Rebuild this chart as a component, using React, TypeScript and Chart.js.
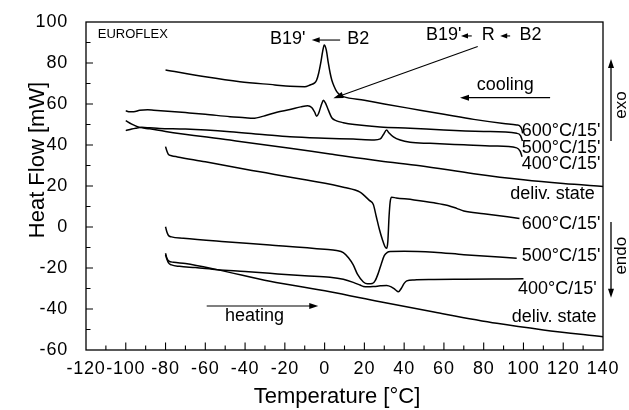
import React, { useEffect, useRef } from "react";
import { Chart, registerables } from "chart.js";

Chart.register(...registerables);

const FONT = "Arial, 'Liberation Sans', sans-serif";

// ---- axis ranges / tick labels ----
const xRange = [-120, 140];
const yRange = [-60, 100];
const xStep = 20;
const yStep = 20;

// ---- cooling curves (exo up) ----
const cool600T = [-80, -60, -42.6, -25, -17.4, -10, -7.3, -5, -4, -3, -2, -1, -0.2, 0.8, 1.9, 2.8, 3.6, 4.8, 6.1, 7.7, 9.4, 20, 30, 48, 60, 75, 90, 96.6, 98.3, 99.2, 99.6];
const cool600H = [76.6, 73.3, 70.9, 69.3, 68.6, 68.4, 69.3, 70.3, 71.7, 75, 79.8, 85.5, 88.8, 86.5, 79.8, 75, 71.7, 68.5, 66, 64.4, 63.6, 61.8, 60, 57, 55, 52.5, 50.5, 49.8, 49.2, 47.5, 45.7];

const cool500T = [-100, -98, -96, -93, -89, -86, -70, -60, -47.6, -40, -36, -30, -24, -17.4, -12, -8.5, -6.5, -5, -4, -3, -1.5, -0.6, 0.4, 1.9, 3.6, 6, 9.4, 15, 27.9, 43, 60, 80, 96.6, 98.5, 99.5];
const cool500H = [56.7, 56.2, 56.2, 56.9, 57.2, 57, 55.8, 55, 53.8, 53.3, 53, 54.3, 56, 57.3, 58.6, 59.2, 58.3, 56, 54, 55.5, 60, 61.8, 60.5, 57, 53.3, 51.8, 50.9, 50, 48.8, 48.2, 47.3, 46.6, 45.7, 44.6, 42];

const cool400T = [-100, -97, -95, -92, -88, -83, -70, -47.6, -30, -17.4, 0, 14.4, 25, 28, 29.5, 31.2, 32.3, 34.6, 38, 43, 53, 70, 85, 96.6, 98.3, 99.3];
const cool400H = [47, 47.8, 48.2, 48.6, 48.4, 48.1, 47.8, 46.5, 45, 44, 43.3, 42.9, 42.5, 43, 45, 47.3, 46, 44, 42.4, 41.3, 40.8, 40.1, 39.5, 38.6, 37, 34.3];

const coolDelT = [-100, -97, -93, -88, -80, -47.6, -17.4, 2.7, 27.9, 48, 75, 100, 120, 140];
const coolDelH = [51.9, 50.2, 48.6, 47.9, 46.6, 42.4, 38.4, 35.6, 32.2, 29.9, 26, 23, 21.2, 19.8];

// ---- heating curves (endo down) ----
const heat600T = [-80, -79.4, -78.6, -77, -74, -60, -39.2, -9, 10, 17.8, 20, 22.5, 24.5, 26, 27.5, 29, 30.3, 31.2, 31.8, 32.4, 33, 33.7, 36, 45, 55, 62, 66.4, 70, 80, 98];
const heat600H = [39.2, 37.3, 35.5, 34.8, 34.2, 31.8, 28, 22.9, 19.3, 17, 15.3, 13, 11, 5, -1, -6, -9.5, -10.4, -7, 5, 12.5, 14.5, 14.2, 13.2, 11.8, 10.5, 9.1, 7.8, 6.5, 4.2];

const heat500T = [-80, -79.4, -78.6, -77, -71, -50, -27.5, 0, 6, 9.4, 12, 14.4, 16.5, 19.5, 21.5, 24, 25.5, 27, 28.5, 30, 31.5, 33, 40, 55, 70, 96.6];
const heat500H = [0.1, -2.2, -4, -4.8, -5.5, -7.2, -8.8, -10.9, -11.5, -12.5, -15, -18.5, -23, -26.8, -27.7, -27.6, -26, -22.5, -18, -14, -12.4, -11.9, -11.8, -12.3, -13.5, -15.2];

const heat400T = [-80, -79.4, -78.5, -77, -73, -65, -54, -40, -27.5, -10, 2.7, 9.4, 14.4, 17.8, 19.5, 22, 25, 28, 31.2, 33.5, 35.5, 37.1, 38.5, 40, 41.3, 45, 55, 70, 85, 100];
const heat400H = [-13.5, -15.5, -17.5, -18.5, -19.2, -19.8, -20.8, -21.7, -22.6, -23.8, -24.5, -25.5, -27, -28.3, -29, -29.2, -29, -28.7, -28.5, -29.2, -30.5, -31.6, -30, -27.5, -26.3, -25.8, -25.6, -25.5, -25.4, -25.3];

const heatDelT = [-80, -79.4, -78.5, -76, -70, -54, -27.5, 2.7, 27.9, 55, 86.6, 110, 140];
const heatDelH = [-12.8, -15, -16.5, -17.2, -17.8, -20.8, -26.5, -31.6, -36.5, -41.5, -47, -50.2, -53.5];

const seriesNames = [
  "600°C/15' cooling", "500°C/15' cooling", "400°C/15' cooling", "deliv. state cooling",
  "600°C/15' heating", "500°C/15' heating", "400°C/15' heating", "deliv. state heating",
];

function arrow(ctx: CanvasRenderingContext2D, x1: number, y1: number, x2: number, y2: number, head = 8, half = 3) {
  const a = Math.atan2(y2 - y1, x2 - x1);
  ctx.beginPath();
  ctx.moveTo(x1, y1);
  ctx.lineTo(x2 - Math.cos(a) * head * 0.6, y2 - Math.sin(a) * head * 0.6);
  ctx.stroke();
  ctx.beginPath();
  ctx.moveTo(x2, y2);
  ctx.lineTo(x2 - Math.cos(a) * head - Math.sin(a) * half, y2 - Math.sin(a) * head + Math.cos(a) * half);
  ctx.lineTo(x2 - Math.cos(a) * head + Math.sin(a) * half, y2 - Math.sin(a) * head - Math.cos(a) * half);
  ctx.closePath();
  ctx.fill();
}

const spacing = {
  id: "spacing",
  beforeDraw(chart: any) {
    (chart.ctx as any).letterSpacing = "0.8px";
  },
  beforeDatasetsDraw(chart: any) {
    (chart.ctx as any).letterSpacing = "0px";
  },
};

const decor = {
  id: "decor",
  afterDraw(chart: any) {
    const { ctx, chartArea: ca, scales } = chart;
    (ctx as any).letterSpacing = "0px";
    const X = (v: number) => scales.x.getPixelForValue(v);
    const Y = (v: number) => scales.y.getPixelForValue(v);
    ctx.save();
    ctx.strokeStyle = "#000";
    ctx.fillStyle = "#000";
    // frame
    ctx.lineWidth = 1.3;
    ctx.strokeRect(ca.left, ca.top, ca.right - ca.left, ca.bottom - ca.top);
    // inward ticks
    ctx.lineWidth = 1.1;
    ctx.beginPath();
    for (let v = xRange[0] + 10; v < xRange[1]; v += 10) {
      const len = v % 20 === 0 ? 7.5 : 4.5;
      ctx.moveTo(X(v), ca.bottom);
      ctx.lineTo(X(v), ca.bottom - len);
    }
    for (let v = yRange[0] + 10; v < yRange[1]; v += 10) {
      const len = v % 20 === 0 ? 7 : 4.5;
      ctx.moveTo(ca.left, Y(v));
      ctx.lineTo(ca.left + len, Y(v));
    }
    ctx.stroke();

    // axis titles
    ctx.font = `22px ${FONT}`;
    ctx.textAlign = "center";
    ctx.textBaseline = "middle";
    ctx.fillText("Temperature [°C]", 337, 397);
    ctx.save();
    ctx.translate(38, 160);
    ctx.rotate(-Math.PI / 2);
    ctx.fillText("Heat Flow [mW]", 0, 0);
    ctx.restore();

    // annotations
    ctx.textAlign = "left";
    ctx.font = `13px ${FONT}`;
    ctx.fillText("EUROFLEX", X(-114.1), Y(93.7));

    ctx.font = `18px ${FONT}`;
    ctx.lineWidth = 1.1;
    ctx.fillText("B19'", X(-27.5), Y(91.7));
    arrow(ctx, X(7.8), Y(91.2), X(-6.5), Y(91.2), 8, 2.8);
    ctx.fillText("B2", X(11.4), Y(91.7));

    ctx.fillText("B19'", X(51), Y(93.4));
    arrow(ctx, X(74), Y(93.2), X(68.6), Y(93.2), 7, 2.6);
    ctx.fillText("R", X(79), Y(93.4));
    arrow(ctx, X(93.3), Y(93.2), X(88.3), Y(93.2), 7, 2.6);
    ctx.fillText("B2", X(98), Y(93.4));

    arrow(ctx, X(77), Y(88), X(4.4), Y(62.8), 10, 3.2);

    ctx.fillText("cooling", X(76.5), Y(69.3));
    arrow(ctx, X(113.4), Y(63.1), X(68.1), Y(63.1), 9, 3);

    ctx.fillText("heating", X(-50.1), Y(-43.3));
    arrow(ctx, X(-59.3), Y(-38.5), X(-3.2), Y(-38.5), 9, 3);

    // curve labels
    ctx.fillText("600°C/15'", X(99.1), Y(46.8));
    ctx.fillText("500°C/15'", X(99.1), Y(38.5));
    ctx.fillText("400°C/15'", X(99.1), Y(30.5));
    ctx.fillText("deliv. state", X(93.3), Y(16.2));
    ctx.fillText("600°C/15'", X(99.1), Y(1.5));
    ctx.fillText("500°C/15'", X(99.1), Y(-14.4));
    ctx.fillText("400°C/15'", X(97.3), Y(-30.2));
    ctx.fillText("deliv. state", X(94.1), Y(-43.9));

    // exo / endo
    const ax = ca.right + 8;
    ctx.lineWidth = 1.3;
    arrow(ctx, ax, Y(42), ax, Y(82), 9, 3);
    arrow(ctx, ax, Y(2.5), ax, Y(-34.5), 9, 3);
    ctx.font = `17px ${FONT}`;
    ctx.textAlign = "center";
    ctx.save();
    ctx.translate(ax + 10, Y(59.5));
    ctx.rotate(-Math.PI / 2);
    ctx.fillText("exo", 0, 0);
    ctx.restore();
    ctx.save();
    ctx.translate(ax + 10, Y(-14));
    ctx.rotate(-Math.PI / 2);
    ctx.fillText("endo", 0, 0);
    ctx.restore();
    ctx.restore();
  },
};

export default function App() {
  const ref = useRef<HTMLCanvasElement>(null);
  useEffect(() => {
    if (!ref.current) return;
    const pairs: [number[], number[]][] = [
      [cool600T, cool600H], [cool500T, cool500H], [cool400T, cool400H], [coolDelT, coolDelH],
      [heat600T, heat600H], [heat500T, heat500H], [heat400T, heat400H], [heatDelT, heatDelH],
    ];
    const datasets = pairs.map(([T, H], i) => ({
      label: seriesNames[i],
      data: T.map((t, k) => ({ x: t, y: H[k] })),
      showLine: true,
      borderColor: "#000",
      borderWidth: 1.5,
      pointRadius: 0,
      fill: false,
      cubicInterpolationMode: "monotone" as const,
    }));
    const chart = new Chart(ref.current, {
      type: "scatter",
      data: { datasets },
      options: {
        animation: false,
        responsive: false,
        layout: { padding: { left: 0, right: 26, top: 22, bottom: 0 } },
        plugins: { legend: { display: false }, tooltip: { enabled: false } },
        scales: {
          x: {
            type: "linear",
            min: xRange[0],
            max: xRange[1],
            grid: { display: false },
            border: { display: false },
            ticks: {
              stepSize: xStep,
              autoSkip: false,
              maxRotation: 0,
              minRotation: 0,
              padding: 0,
              color: "#000",
              font: { family: FONT, size: 18 },
            },
            afterFit: (s: any) => { s.height = 60; },
          },
          y: {
            type: "linear",
            min: yRange[0],
            max: yRange[1],
            grid: { display: false },
            border: { display: false },
            ticks: {
              stepSize: yStep,
              autoSkip: false,
              padding: 10,
              color: "#000",
              font: { family: FONT, size: 18 },
            },
            afterFit: (s: any) => { s.width = 86; },
          },
        },
      },
      plugins: [spacing, decor],
    });
    return () => chart.destroy();
  }, []);
  return (
    <div style={{ position: "fixed", left: 0, top: 0, width: 629, height: 410, background: "#fff" }}>
      <canvas ref={ref} width={629} height={410} style={{ display: "block" }} />
    </div>
  );
}
